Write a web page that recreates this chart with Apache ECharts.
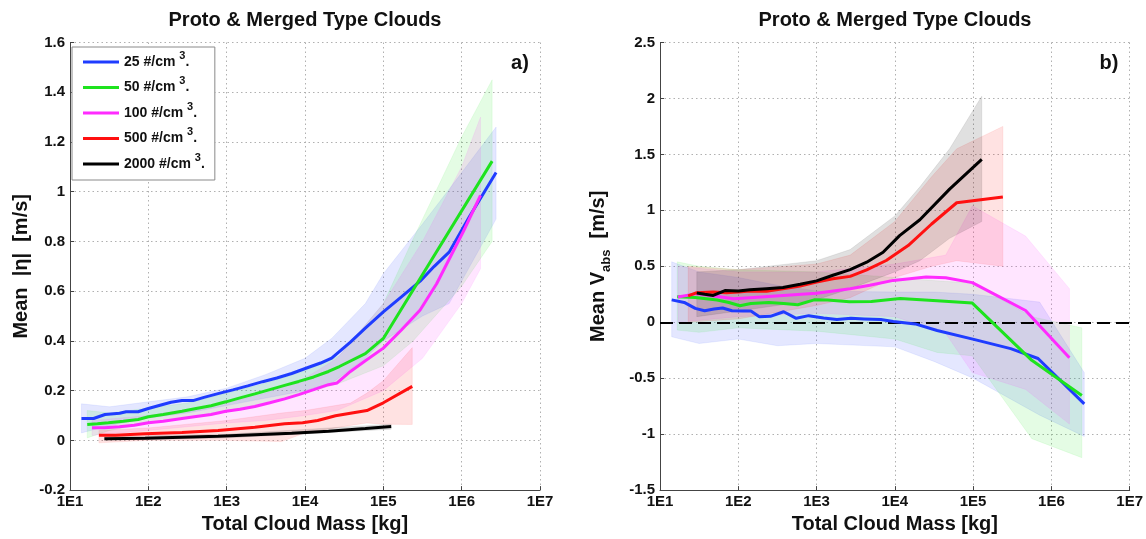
<!DOCTYPE html>
<html>
<head>
<meta charset="utf-8">
<script src="https://cdn.jsdelivr.net/npm/echarts@6/dist/echarts.min.js"></script>
<style>html,body{margin:0;padding:0;background:#fff}#c{width:1146px;height:539px}</style>
</head>
<body>
<div id="c"></div>
<script>
// ---------- categories / tick labels ----------
const seriesNames = ['25 #/cm³.', '50 #/cm³.', '100 #/cm³.', '500 #/cm³.', '2000 #/cm³.'];
const xTickLabels = ['1E1', '1E2', '1E3', '1E4', '1E5', '1E6', '1E7'];
const leftYTicks = [-0.2, 0, 0.2, 0.4, 0.6, 0.8, 1, 1.2, 1.4, 1.6];
const leftYTickLabels = ['-0.2', '0', '0.2', '0.4', '0.6', '0.8', '1', '1.2', '1.4', '1.6'];
const rightYTicks = [-1.5, -1, -0.5, 0, 0.5, 1, 1.5, 2, 2.5];
const rightYTickLabels = ['-1.5', '-1', '-0.5', '0', '0.5', '1', '1.5', '2', '2.5'];

// ---------- panel a) mean |eta| ----------
const blueMassA = [14,20,28,43,52,74,100,141,195,269,372,513,776,1200,1860,2880,4370,6760,10500,15800,21900,38000,58900,100000,170000,295000,447000,692000,1260000,2750000];
const blueValA  = [0.088,0.088,0.104,0.109,0.115,0.115,0.128,0.141,0.153,0.16,0.16,0.173,0.188,0.203,0.219,0.236,0.251,0.269,0.291,0.311,0.331,0.395,0.451,0.517,0.577,0.64,0.70,0.757,0.90,1.077];
const greenMassA = [16.6,22.4,30.9,47.9,74.1,100,155,269,407,631,977,1480,2290,3550,5500,8320,12900,19950,27500,58900,100000,2450000];
const greenValA  = [0.064,0.067,0.071,0.077,0.084,0.095,0.104,0.117,0.128,0.139,0.155,0.171,0.187,0.204,0.221,0.237,0.255,0.277,0.297,0.349,0.41,1.123];
const magentaMassA = [19.1,27.5,42.7,66.1,100,155,269,407,631,977,1480,2290,3550,5500,8320,12900,19950,25700,38000,58900,100000,170000,295000,479000,1050000,1740000];
const magentaValA  = [0.051,0.051,0.055,0.061,0.071,0.077,0.088,0.096,0.104,0.117,0.125,0.136,0.151,0.167,0.184,0.204,0.224,0.231,0.277,0.32,0.371,0.444,0.524,0.63,0.84,0.985];
const redMassA = [23.4,38,91,269,776,2290,5500,9330,14500,24500,38000,61700,100000,234000];
const redValA  = [0.021,0.021,0.027,0.032,0.04,0.053,0.067,0.071,0.08,0.099,0.109,0.12,0.151,0.217];
const blackMassA = [27.5,91,776,6760,19950,58900,126000];
const blackValA  = [0.007,0.009,0.017,0.029,0.037,0.048,0.056];

// bands (panel a)
const blueBandMassA = [14,32,100,316,1000,3160,10000,21900,58900,100000,316000,692000,2750000];
const blueBandLoA   = [0.03,0.06,0.09,0.11,0.14,0.17,0.2,0.23,0.33,0.40,0.50,0.55,0.89];
const blueBandHiA   = [0.147,0.135,0.155,0.175,0.21,0.265,0.33,0.41,0.55,0.67,0.87,1.01,1.26];
const greenBandMassA = [16.6,32,100,316,1000,3160,10000,27500,100000,240000,1000000,2450000];
const greenBandLoA   = [0.01,0.04,0.07,0.09,0.12,0.15,0.19,0.23,0.30,0.40,0.62,0.80];
const greenBandHiA   = [0.12,0.11,0.13,0.15,0.19,0.23,0.28,0.34,0.55,0.81,1.22,1.45];
const magentaBandMassA = [19.1,100,1000,3160,10000,25700,100000,316000,1000000,1740000];
const magentaBandLoA   = [0.02,0.04,0.07,0.08,0.10,0.12,0.20,0.33,0.55,0.69];
const magentaBandHiA   = [0.08,0.10,0.15,0.19,0.25,0.33,0.55,0.80,1.10,1.30];
const redBandMassA = [23.4,100,1000,5000,10000,38000,61700,100000,234000];
const redBandLoA   = [-0.01,0.0,0.0,-0.005,0.03,0.06,0.07,0.065,0.064];
const redBandHiA   = [0.04,0.05,0.08,0.11,0.12,0.15,0.19,0.24,0.373];
const blackBandMassA = [27.5,1000,126000];
const blackBandLoA   = [0.0,0.01,0.045];
const blackBandHiA   = [0.015,0.025,0.065];

// ---------- panel b) mean V_abs ----------
const blueMassB = [14.1,20.4,28.2,37.2,49,63.1,83.2,115,145,186,257,380,550,794,1230,1820,2750,4070,6610,9550,18200,34700,102000,302000,676000,2630000];
const blueValB  = [0.20,0.177,0.124,0.103,0.118,0.127,0.103,0.10,0.10,0.05,0.053,0.094,0.035,0.059,0.038,0.024,0.035,0.03,0.024,0.006,-0.015,-0.074,-0.153,-0.236,-0.324,-0.73];
const greenMassB = [16.6,28.2,53.7,75.9,105,145,245,380,575,933,1380,2630,5010,11700,34700,97700,562000,2450000];
const greenValB  = [0.227,0.221,0.198,0.177,0.147,0.168,0.177,0.168,0.156,0.20,0.198,0.183,0.186,0.212,0.192,0.171,-0.34,-0.655];
const magentaMassB = [17,29.5,52.5,87.1,141,372,1000,2690,4790,9550,25100,44700,97700,468000,1700000];
const magentaValB  = [0.226,0.256,0.232,0.21,0.22,0.24,0.26,0.30,0.33,0.374,0.404,0.398,0.354,0.105,-0.318];
const redMassB = [22.9,29.5,47.9,70.8,100,141,229,372,617,1000,1620,2690,4370,7760,14800,29500,61700,240000];
const redValB  = [0.235,0.264,0.27,0.264,0.27,0.28,0.276,0.30,0.324,0.36,0.389,0.41,0.468,0.552,0.685,0.878,1.068,1.12];
const blackMassB = [29.5,37.2,47.9,67.6,100,141,229,372,617,1000,1620,2690,4370,7080,11500,20900,50100,129000];
const blackValB  = [0.262,0.25,0.24,0.283,0.28,0.29,0.30,0.31,0.34,0.37,0.42,0.47,0.537,0.626,0.774,0.916,1.19,1.456];

// bands (panel b)
const blueBandMassB = [14.1,31.6,100,316,1000,10000,31600,100000,708000,2630000];
const blueBandLoB   = [-0.13,-0.19,-0.15,-0.21,-0.19,-0.22,-0.35,-0.5,-0.83,-1.02];
const blueBandHiB   = [0.54,0.45,0.40,0.33,0.28,0.27,0.27,0.25,0.18,-0.45];
const greenBandMassB = [16.6,31.6,100,1000,10000,34700,97700,562000,2450000];
const greenBandLoB   = [-0.07,-0.09,-0.05,-0.08,-0.15,-0.27,-0.3,-1.04,-1.21];
const greenBandHiB   = [0.54,0.50,0.47,0.45,0.40,0.37,0.35,0.05,-0.05];
const magentaBandMassB = [17,100,1000,10000,44700,97700,468000,1700000];
const magentaBandLoB   = [0.0,0.05,0.08,0.05,-0.1,-0.45,-0.6,-0.91];
const magentaBandHiB   = [0.5,0.45,0.45,0.52,0.6,1.04,0.77,0.30];
const redBandMassB = [22.9,100,1000,2690,10000,29500,61700,240000];
const redBandLoB   = [0.0,0.03,0.15,0.22,0.40,0.5,0.55,0.5];
const redBandHiB   = [0.5,0.47,0.52,0.6,0.9,1.3,1.55,1.75];
const blackBandMassB = [29.5,100,1000,2690,10000,20900,50100,129000];
const blackBandLoB   = [0.05,0.1,0.2,0.3,0.45,0.55,0.75,0.9];
const blackBandHiB   = [0.45,0.47,0.55,0.65,0.95,1.21,1.55,2.02];

// ---------- styling ----------
const colors = ['#1f3cff', '#1ee31e', '#ff2bff', '#ff1010', '#000000'];
const bandFill = ['rgba(31,60,255,0.12)', 'rgba(30,227,30,0.12)', 'rgba(255,43,255,0.12)', 'rgba(255,16,16,0.12)', 'rgba(0,0,0,0.12)'];
const bandEdge = ['rgba(31,60,255,0.08)', 'rgba(30,227,30,0.08)', 'rgba(255,43,255,0.08)', 'rgba(255,16,16,0.08)', 'rgba(0,0,0,0.08)'];
const FONT = '"Liberation Sans", Arial, Helvetica, sans-serif';

function pairs(m, v) { return m.map((x, i) => [x, v[i]]); }
function triples(m, lo, hi) { return m.map((x, i) => [x, lo[i], hi[i]]); }

function lineSeries(idx, mass, vals, axis) {
  return {
    type: 'line', name: seriesNames[idx], xAxisIndex: axis, yAxisIndex: axis,
    data: pairs(mass, vals), showSymbol: false, symbol: 'none', color: colors[idx],
    lineStyle: { width: 3, color: colors[idx] }, z: 5, silent: true, animation: false
  };
}
function bandSeries(idx, mass, lo, hi, axis) {
  return {
    type: 'custom', name: 'band' + idx + '_' + axis, xAxisIndex: axis, yAxisIndex: axis,
    data: triples(mass, lo, hi), z: 1, silent: true, animation: false,
    encode: { x: 0, y: [1, 2] },
    renderItem: function (params, api) {
      if (params.dataIndexInside !== 0) return null;
      const n = params.dataInsideLength;
      const top = [], bot = [];
      for (let j = 0; j < n; j++) {
        top.push(api.coord([api.value(0, j), api.value(2, j)]));
        bot.push(api.coord([api.value(0, j), api.value(1, j)]));
      }
      return { type: 'polygon', shape: { points: top.concat(bot.reverse()) },
               style: { fill: bandFill[idx], stroke: bandEdge[idx], lineWidth: 1 } };
    }
  };
}

function xAxis(gi) {
  return {
    type: 'log', logBase: 10, min: 10, max: 1e7, gridIndex: gi, splitNumber: 6,
    axisLine: { show: true, onZero: false, lineStyle: { color: '#444', width: 1 } },
    axisTick: { show: true, inside: true, length: 4, lineStyle: { color: '#444' } },
    axisLabel: { showMinLabel: true, showMaxLabel: true, margin: 4, color: '#111', fontSize: 15, fontWeight: 'bold', fontFamily: FONT,
      formatter: v => xTickLabels[Math.round(Math.log10(v)) - 1] },
    splitLine: { show: true, lineStyle: { color: '#b0b0b0', type: [1.5, 3], width: 1 } },
    name: 'Total Cloud Mass [kg]', nameLocation: 'middle', nameGap: 22,
    nameTextStyle: { fontSize: 20, fontWeight: 'bold', color: '#111', fontFamily: FONT }
  };
}
function yAxis(gi, min, max, step, ticks, labels, name, gap, rich) {
  return {
    type: 'value', gridIndex: gi, min: min, max: max, interval: step,
    axisLine: { show: true, onZero: false, lineStyle: { color: '#444', width: 1 } },
    axisTick: { show: true, inside: true, length: 4, lineStyle: { color: '#444' } },
    axisLabel: { margin: 5, color: '#111', fontSize: 15, fontWeight: 'bold', fontFamily: FONT,
      formatter: v => { let k = 0; ticks.forEach((t, i) => { if (Math.abs(t - v) < Math.abs(ticks[k] - v)) k = i; }); return labels[k]; } },
    splitLine: { show: true, lineStyle: { color: '#b0b0b0', type: [1.5, 3], width: 1 } },
    name: name, nameLocation: 'middle', nameGap: gap, nameRotate: 90,
    nameTextStyle: { fontSize: 20, fontWeight: 'bold', color: '#111', fontFamily: FONT, rich: rich || {} }
  };
}

const series = [
  bandSeries(0, blueBandMassA, blueBandLoA, blueBandHiA, 0),
  bandSeries(1, greenBandMassA, greenBandLoA, greenBandHiA, 0),
  bandSeries(2, magentaBandMassA, magentaBandLoA, magentaBandHiA, 0),
  bandSeries(3, redBandMassA, redBandLoA, redBandHiA, 0),
  bandSeries(4, blackBandMassA, blackBandLoA, blackBandHiA, 0),
  lineSeries(0, blueMassA, blueValA, 0),
  lineSeries(1, greenMassA, greenValA, 0),
  lineSeries(2, magentaMassA, magentaValA, 0),
  lineSeries(3, redMassA, redValA, 0),
  lineSeries(4, blackMassA, blackValA, 0),
  bandSeries(0, blueBandMassB, blueBandLoB, blueBandHiB, 1),
  bandSeries(1, greenBandMassB, greenBandLoB, greenBandHiB, 1),
  bandSeries(2, magentaBandMassB, magentaBandLoB, magentaBandHiB, 1),
  bandSeries(3, redBandMassB, redBandLoB, redBandHiB, 1),
  bandSeries(4, blackBandMassB, blackBandLoB, blackBandHiB, 1),
  lineSeries(0, blueMassB, blueValB, 1),
  lineSeries(1, greenMassB, greenValB, 1),
  lineSeries(2, magentaMassB, magentaValB, 1),
  lineSeries(3, redMassB, redValB, 1),
  lineSeries(4, blackMassB, blackValB, 1)
];
// dashed zero line on panel b
series[15].markLine = {
  silent: true, symbol: 'none', animation: false, label: { show: false },
  lineStyle: { color: '#000', type: [13, 6], width: 2 },
  data: [{ yAxis: 0 }]
};

const chart = echarts.init(document.getElementById('c'), null, { renderer: 'canvas' });
chart.setOption({
  animation: false,
  backgroundColor: '#fff',
  grid: [
    { left: 70, top: 42.5, width: 470, height: 450 },
    { left: 660, top: 42.5, width: 470, height: 450 }
  ],
  xAxis: [xAxis(0), xAxis(1)],
  yAxis: [
    yAxis(0, -0.2, 1.6, 0.2, leftYTicks, leftYTickLabels, 'Mean  |η|  [m/s]', 39),
    yAxis(1, -1.5, 2.5, 0.5, rightYTicks, rightYTickLabels, 'Mean V{sub|abs}  [m/s]', 47,
      { sub: { fontSize: 13, fontWeight: 'bold', fontFamily: FONT, color: '#111', verticalAlign: 'bottom', lineHeight: 30 } })
  ],
  legend: {
    data: seriesNames, orient: 'vertical', left: 72, top: 47,
    padding: [3, 10, 4, 11], itemGap: 1.5, itemWidth: 36, itemHeight: 3, icon: 'rect',
    backgroundColor: '#fff', borderColor: '#8a8a8a', borderWidth: 1, borderRadius: 0,
    selectedMode: false, z: 10,
    formatter: name => name.replace('³', ' {sup|3}'),
    textStyle: { fontSize: 14, fontWeight: 'bold', color: '#111', fontFamily: FONT, lineHeight: 24,
      rich: { sup: { fontSize: 11, fontWeight: 'bold', color: '#111', fontFamily: FONT, verticalAlign: 'top', lineHeight: 12 } } }
  },
  graphic: [
    { type: 'text', x: 305, y: 20.5, style: { text: 'Proto & Merged Type Clouds', font: 'bold 20px ' + FONT, fill: '#111', align: 'center', verticalAlign: 'middle' } },
    { type: 'text', x: 895, y: 20.5, style: { text: 'Proto & Merged Type Clouds', font: 'bold 20px ' + FONT, fill: '#111', align: 'center', verticalAlign: 'middle' } },
    { type: 'text', x: 520, y: 63, style: { text: 'a)', font: 'bold 20px ' + FONT, fill: '#111', align: 'center', verticalAlign: 'middle' } },
    { type: 'text', x: 1109, y: 63, style: { text: 'b)', font: 'bold 20px ' + FONT, fill: '#111', align: 'center', verticalAlign: 'middle' } }
  ],
  series: series
});
</script>
</body>
</html>
